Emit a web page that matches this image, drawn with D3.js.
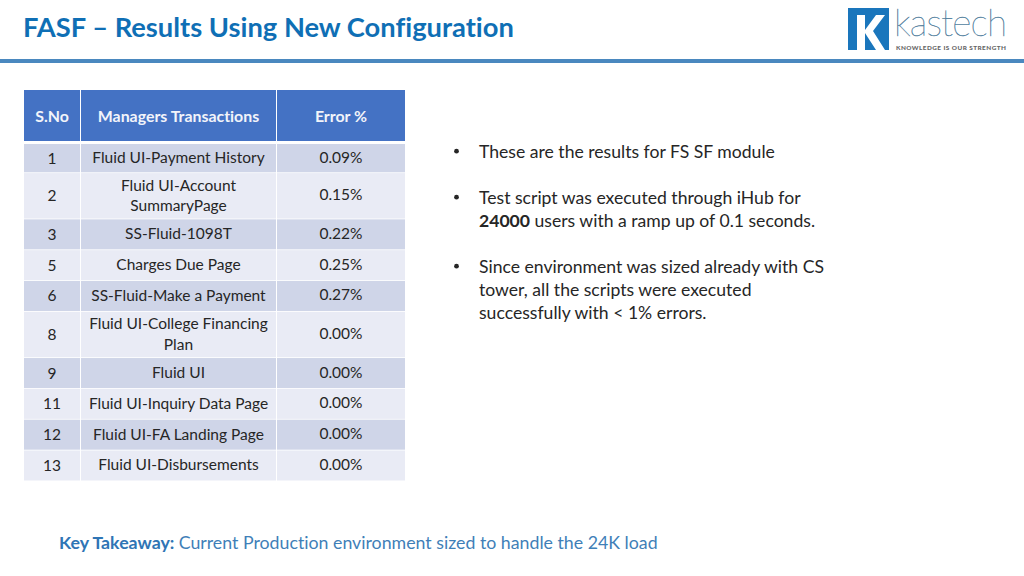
<!DOCTYPE html>
<html><head><meta charset="utf-8">
<script src="https://cdn.jsdelivr.net/npm/d3@7"></script>
<style>html,body{margin:0;padding:0;background:#fff}svg{display:block}text{font-family:Lato,"Open Sans",sans-serif;font-variant-ligatures:none}</style>
</head><body><svg id="c" width="1024" height="576"></svg>
<script>
const headers = ["S.No", "Managers Transactions", "Error %"];
const serial = [1, 2, 3, 5, 6, 8, 9, 11, 12, 13];
const transactions = [
  ["Fluid UI-Payment History"],
  ["Fluid UI-Account", "SummaryPage"],
  ["SS-Fluid-1098T"],
  ["Charges Due Page"],
  ["SS-Fluid-Make a Payment"],
  ["Fluid UI-College Financing", "Plan"],
  ["Fluid UI"],
  ["Fluid UI-Inquiry Data Page"],
  ["Fluid UI-FA Landing Page"],
  ["Fluid UI-Disbursements"]
];
const errorPct = [0.09, 0.15, 0.22, 0.25, 0.27, 0, 0, 0, 0, 0];
const bullets = [
  [[["These are the results for FS SF module", false]]],
  [[["Test script was executed through iHub for", false]],
   [["24000", true], [" users with a ramp up of 0.1 seconds.", false]]],
  [[["Since environment was sized already with CS", false]],
   [["tower, all the scripts were executed", false]],
   [["successfully with < 1% errors.", false]]]
];

const svg = d3.select("#c");
const blue = "#0f6fb5", head = "#4472c4", band1 = "#cfd5e8", band2 = "#e9ebf5", ink = "#262626";

// title + rule
svg.append("text").attr("x", 23).attr("y", 37).attr("font-size", 27.3).attr("font-weight", 700)
  .attr("fill", blue).text("FASF \u2013 Results Using New Configuration");
svg.append("rect").attr("x", 0).attr("y", 59).attr("width", 1024).attr("height", 4).attr("fill", "#4a88bf");

// logo
const logo = svg.append("g");
logo.append("rect").attr("x", 848).attr("y", 8).attr("width", 41).attr("height", 42).attr("fill", "#1a76bc");
logo.append("path").attr("fill", "#fff")
  .attr("d", "M857 15h8v15l11-15h9l-12 16 12 19h-9l-11-17v17h-8z");
logo.append("text").attr("x", 894).attr("y", 36).attr("font-size", 37).attr("font-weight", 100)
  .attr("fill", "#4f7d9c").attr("stroke", "#4f7d9c").attr("stroke-width", 0.35)
  .attr("textLength", 113).text("kastech");
logo.append("text").attr("x", 896).attr("y", 50).attr("font-size", 6.4).attr("font-weight", 900)
  .attr("fill", "#666").attr("textLength", 110).text("KNOWLEDGE IS OUR STRENGTH");

// table scales
const x = d3.scaleOrdinal().domain(headers).range([24, 81, 277]);
const colW = d3.scaleOrdinal().domain(headers).range([56, 195, 128]);
const units = transactions.map(t => t.length + 1);
const cum = d3.cumsum([0, ...units]);
const y = d3.scaleLinear().domain([0, d3.sum(units)]).range([141.5, 480.5]);
const fmt = v => d3.format(".2f")(v) + "%";

// header
headers.forEach(h => {
  svg.append("rect").attr("x", x(h)).attr("y", 90).attr("width", colW(h)).attr("height", 51).attr("fill", head);
  svg.append("text").attr("x", x(h) + colW(h) / 2).attr("y", 122).attr("text-anchor", "middle")
    .attr("font-size", 15.9).attr("font-weight", 700).attr("fill", "#f2f4fa").text(h);
});

// rows
const rows = svg.selectAll("g.row").data(serial).join("g").attr("class", "row");
rows.each(function (s, i) {
  const g = d3.select(this);
  const top = i === 0 ? 144 : y(cum[i]) + 0.8, bot = y(cum[i + 1]);
  const mid = (top + bot) / 2;
  headers.forEach(h => {
    g.append("rect").attr("x", x(h)).attr("y", top).attr("width", colW(h)).attr("height", bot - top)
      .attr("fill", i % 2 ? band2 : band1);
  });
  const tx = (h, yy, t) => g.append("text").attr("x", x(h) + colW(h) / 2).attr("y", yy)
    .attr("text-anchor", "middle").attr("font-size", 15.5).attr("fill", ink).text(t);
  tx(headers[0], mid + 5.5, s);
  const lines = transactions[i];
  lines.forEach((l, k) => tx(headers[1], mid + 5 + (k - (lines.length - 1) / 2) * 20.5, l));
  tx(headers[2], mid + 4.5, fmt(errorPct[i]));
});

// bullets
const bx = d3.scaleLinear().domain([0, 1]).range([453, 479]);
let by = 157.7;
bullets.forEach(b => {
  svg.append("circle").attr("cx", bx(0) + 3.5).attr("cy", by - 6.5).attr("r", 2.4).attr("fill", ink);
  b.forEach(line => {
    const t = svg.append("text").attr("x", bx(1)).attr("y", by).attr("font-size", 17.6).attr("fill", ink);
    line.forEach(([s, bold]) => t.append("tspan").attr("font-weight", bold ? 700 : 400).text(s));
    by += 23;
  });
  by += 23;
});

// takeaway
const k = svg.append("text").attr("x", 59).attr("y", 549).attr("font-size", 17.75);
k.append("tspan").attr("font-weight", 700).attr("fill", "#2f75b5").text("Key Takeaway: ");
k.append("tspan").attr("fill", "#3f7fb8").text("Current Production environment sized to handle the 24K load");
</script></body></html>
